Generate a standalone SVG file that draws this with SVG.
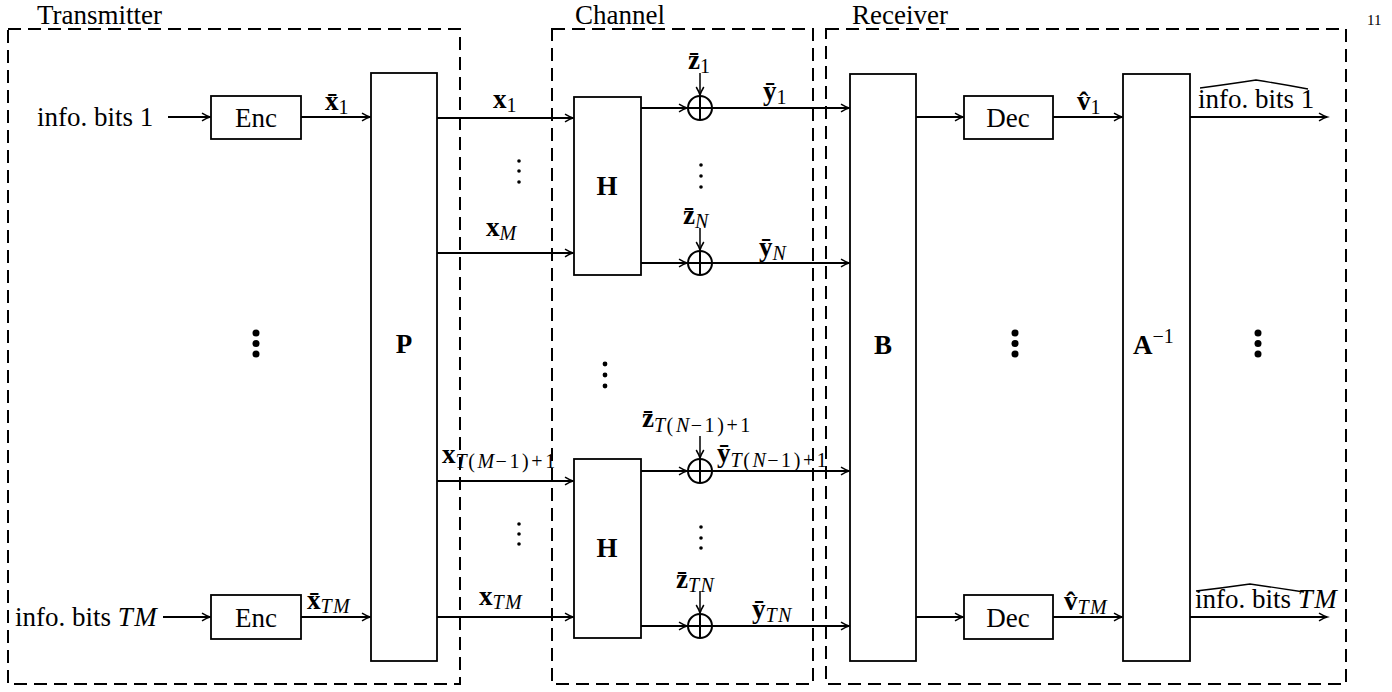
<svg xmlns="http://www.w3.org/2000/svg" width="1392" height="692" viewBox="0 0 1392 692">
<style>
text{font-family:"Liberation Serif","Times New Roman",serif;fill:#000}
.t{font-size:27px}
.b{font-size:27px;font-weight:bold}
.s{font-size:20px}
.i{font-style:italic;letter-spacing:1.5px}
.w{letter-spacing:2.6px}
.box{fill:#fff;stroke:#000;stroke-width:1.8}
.dash{fill:none;stroke:#000;stroke-width:2;stroke-dasharray:13 7}
.ln{fill:none;stroke:#000;stroke-width:1.8;marker-end:url(#arr)}
.plus{fill:#fff;stroke:#000;stroke-width:2}
.hat{fill:none;stroke:#000;stroke-width:1.3}
</style>
<defs>
<marker id="arr" markerUnits="userSpaceOnUse" viewBox="-9 -5 10 10" markerWidth="10" markerHeight="10" refX="0" refY="0" orient="auto" overflow="visible">
<path d="M-8,-3.8 Q-3,-0.8 0,0 Q-3,0.8 -8,3.8" fill="none" stroke="#000" stroke-width="1.5"/>
</marker>
</defs>

<g id="regions">
<rect class="dash" x="8" y="29" width="452" height="655"/>
<rect class="dash" x="552" y="29" width="261" height="655"/>
<rect class="dash" x="826" y="29" width="520" height="655"/>
<text class="t" x="37" y="24">Transmitter</text>
<text class="t" x="575" y="24">Channel</text>
<text class="t" x="852" y="24">Receiver</text>
<text x="1367" y="25" style="font-size:15px">11</text>
</g>

<g id="connectors">
<line class="ln" x1="168" y1="117" x2="210" y2="117"/>
<line class="ln" x1="301" y1="117" x2="370" y2="117"/>
<line class="ln" x1="163" y1="617" x2="210" y2="617"/>
<line class="ln" x1="301" y1="617" x2="370" y2="617"/>
<line class="ln" x1="437" y1="118" x2="573" y2="118"/>
<line class="ln" x1="437" y1="253" x2="573" y2="253"/>
<line class="ln" x1="437" y1="481" x2="573" y2="481"/>
<line class="ln" x1="437" y1="617" x2="573" y2="617"/>
<line class="ln" x1="641" y1="108" x2="687" y2="108"/>
<line class="ln" x1="641" y1="263" x2="687" y2="263"/>
<line class="ln" x1="641" y1="471" x2="687" y2="471"/>
<line class="ln" x1="641" y1="626" x2="687" y2="626"/>
<line class="ln" x1="700" y1="73" x2="700" y2="95" style="stroke-width:1.5"/>
<line class="ln" x1="700" y1="228" x2="700" y2="250" style="stroke-width:1.5"/>
<line class="ln" x1="700" y1="436" x2="700" y2="458" style="stroke-width:1.5"/>
<line class="ln" x1="700" y1="591" x2="700" y2="613" style="stroke-width:1.5"/>
<line class="ln" x1="712" y1="108" x2="849" y2="108"/>
<line class="ln" x1="712" y1="263" x2="849" y2="263"/>
<line class="ln" x1="712" y1="471" x2="849" y2="471"/>
<line class="ln" x1="712" y1="626" x2="849" y2="626"/>
<line class="ln" x1="916" y1="117" x2="963" y2="117"/>
<line class="ln" x1="916" y1="617" x2="963" y2="617"/>
<line class="ln" x1="1053" y1="117" x2="1122" y2="117"/>
<line class="ln" x1="1053" y1="617" x2="1122" y2="617"/>
<line class="ln" x1="1190" y1="117" x2="1327" y2="117"/>
<line class="ln" x1="1190" y1="617" x2="1327" y2="617"/>
</g>

<g id="enc1"><rect class="box" x="211" y="96" width="90" height="43"/><text class="t" x="256" y="127" text-anchor="middle">Enc</text></g>
<g id="enc2"><rect class="box" x="211" y="595" width="90" height="44"/><text class="t" x="256" y="627" text-anchor="middle">Enc</text></g>
<g id="P"><rect class="box" x="371" y="73" width="66" height="588"/><text class="b" x="404" y="353" text-anchor="middle">P</text></g>
<g id="H1"><rect class="box" x="574" y="97" width="67" height="178"/><text class="b" x="607" y="195" text-anchor="middle">H</text></g>
<g id="H2"><rect class="box" x="574" y="459" width="67" height="179"/><text class="b" x="607" y="557" text-anchor="middle">H</text></g>
<g id="B"><rect class="box" x="850" y="74" width="66" height="587"/><text class="b" x="883" y="354" text-anchor="middle">B</text></g>
<g id="Ainv"><rect class="box" x="1123" y="74" width="67" height="587"/><text x="1133" y="354"><tspan class="b">A</tspan><tspan class="s" dy="-11">−1</tspan></text></g>
<g id="dec1"><rect class="box" x="964" y="96" width="89" height="43"/><text class="t" x="1008" y="127" text-anchor="middle">Dec</text></g>
<g id="dec2"><rect class="box" x="964" y="595" width="89" height="44"/><text class="t" x="1008" y="627" text-anchor="middle">Dec</text></g>

<g id="adders">
<g id="add1"><circle class="plus" cx="700" cy="108" r="12"/><path d="M688,108H712M700,96V120" stroke="#000" stroke-width="2"/></g>
<g id="add2"><circle class="plus" cx="700" cy="263" r="12"/><path d="M688,263H712M700,251V275" stroke="#000" stroke-width="2"/></g>
<g id="add3"><circle class="plus" cx="700" cy="471" r="12"/><path d="M688,471H712M700,459V483" stroke="#000" stroke-width="2"/></g>
<g id="add4"><circle class="plus" cx="700" cy="626" r="12"/><path d="M688,626H712M700,614V638" stroke="#000" stroke-width="2"/></g>
</g>

<g id="inputs">
<text class="t" x="37" y="126">info. bits 1</text>
<text class="t" x="15" y="626">info. bits <tspan class="i">TM</tspan></text>
</g>

<g id="outputs">
<text class="t" x="1198" y="108">info. bits 1</text>
<path class="hat" d="M1200,88 Q1230,84 1256,80 Q1282,84 1308,89"/>
<text class="t" x="1195" y="608">info. bits <tspan class="i">TM</tspan></text>
<path class="hat" d="M1196,591 Q1222,588 1250,584 Q1277,588 1304,592"/>
</g>

<g id="labels">
<text x="325" y="110"><tspan class="b">x̄</tspan><tspan class="s" dy="4">1</tspan></text>
<text x="307" y="609"><tspan class="b">x̄</tspan><tspan class="s i" dy="4">TM</tspan></text>
<text x="493" y="108"><tspan class="b">x</tspan><tspan class="s" dy="4">1</tspan></text>
<text x="486" y="236"><tspan class="b">x</tspan><tspan class="s i" dy="4">M</tspan></text>
<text x="442" y="463"><tspan class="b">x</tspan><tspan class="s w" dy="5"><tspan class="i">T</tspan>(<tspan class="i">M</tspan>−1)+1</tspan></text>
<text x="479" y="605"><tspan class="b">x</tspan><tspan class="s i" dy="4">TM</tspan></text>
<text x="688" y="69"><tspan class="b">z̄</tspan><tspan class="s" dy="4">1</tspan></text>
<text x="683" y="224"><tspan class="b">z̄</tspan><tspan class="s i" dy="4">N</tspan></text>
<text x="642" y="427"><tspan class="b">z̄</tspan><tspan class="s w" dy="5"><tspan class="i">T</tspan>(<tspan class="i">N</tspan>−1)+1</tspan></text>
<text x="676" y="588"><tspan class="b">z̄</tspan><tspan class="s i" dy="4">TN</tspan></text>
<text x="763" y="100"><tspan class="b">ȳ</tspan><tspan class="s" dy="4">1</tspan></text>
<text x="759" y="256"><tspan class="b">ȳ</tspan><tspan class="s i" dy="4">N</tspan></text>
<text x="717" y="462"><tspan class="b">ȳ</tspan><tspan class="s w" dy="5"><tspan class="i">T</tspan>(<tspan class="i">N</tspan>−1)+1</tspan></text>
<text x="752" y="618"><tspan class="b">ȳ</tspan><tspan class="s i" dy="4">TN</tspan></text>
<text x="1077" y="110"><tspan class="b">v̂</tspan><tspan class="s" dy="4">1</tspan></text>
<text x="1064" y="610"><tspan class="b">v̂</tspan><tspan class="s i" dy="4">TM</tspan></text>
</g>

<g id="dots">
<g fill="#000">
<circle cx="519" cy="161" r="1.8"/><circle cx="519" cy="171" r="1.8"/><circle cx="519" cy="182" r="1.8"/>
<circle cx="701" cy="165" r="1.8"/><circle cx="701" cy="176" r="1.8"/><circle cx="701" cy="187" r="1.8"/>
<circle cx="519" cy="524" r="1.8"/><circle cx="519" cy="534" r="1.8"/><circle cx="519" cy="544" r="1.8"/>
<circle cx="701" cy="527" r="1.8"/><circle cx="701" cy="538" r="1.8"/><circle cx="701" cy="548" r="1.8"/>
<circle cx="605" cy="364" r="2.4"/><circle cx="605" cy="375" r="2.4"/><circle cx="605" cy="386" r="2.4"/>
<circle cx="256" cy="333" r="3.5"/><circle cx="256" cy="343.5" r="3.5"/><circle cx="256" cy="354" r="3.5"/>
<circle cx="1015" cy="333" r="3.5"/><circle cx="1015" cy="343.5" r="3.5"/><circle cx="1015" cy="354" r="3.5"/>
<circle cx="1258" cy="333" r="3.5"/><circle cx="1258" cy="343.5" r="3.5"/><circle cx="1258" cy="354" r="3.5"/>
</g>
</g>
</svg>
